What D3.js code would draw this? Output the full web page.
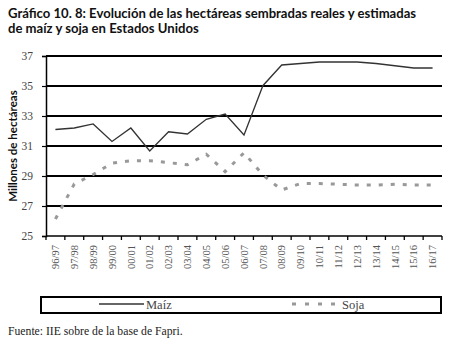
<!DOCTYPE html>
<html><head><meta charset="utf-8">
<script src="https://cdn.jsdelivr.net/npm/d3@7"></script>
<style>body{margin:0;background:#fff}svg{display:block}</style>
</head><body>
<svg id="c" width="450" height="349"></svg>
<script>
const categories = ["96/97","97/98","98/99","99/00","00/01","01/02","02/03","03/04","04/05","05/06","06/07","07/08","08/09","09/10","10/11","11/12","12/13","13/14","14/15","15/16","16/17"];
const maiz = [32.1,32.2,32.47,31.3,32.2,30.67,31.95,31.8,32.78,33.13,31.73,35.02,36.4,36.5,36.6,36.6,36.6,36.5,36.35,36.2,36.2];
const soja = [26.13,28.47,29.1,29.85,30.02,30.02,29.89,29.75,30.45,29.29,30.55,29.07,28.07,28.5,28.5,28.45,28.4,28.4,28.45,28.4,28.4];
const yTicks = [25,27,29,31,33,35,37];
const titleLines = ["Gráfico 10. 8: Evolución de las hectáreas sembradas reales y estimadas","de maíz y soja en Estados Unidos"];
const yTitle = "Millones de hectáreas";
const legendLabels = ["Maíz","Soja"];
const source = "Fuente: IIE sobre de la base de Fapri.";

const svg = d3.select("#c");
const L = 46, R = 442, T = 56, B = 236;
const x = d3.scaleBand().domain(categories).range([L, R]);
const y = d3.scaleLinear().domain([25,37]).range([B, T]);

// title
svg.append("g").selectAll("text").data(titleLines).join("text")
  .attr("x", 8).attr("y", (d,i)=>18+i*15)
  .attr("font-family","Lato, 'Open Sans', sans-serif").attr("font-weight","bold")
  .attr("font-size", 13.1).attr("fill","#111").text(d=>d);

// gridlines
svg.append("g").selectAll("line").data(yTicks.filter(t=>t>25)).join("line")
  .attr("x1", L).attr("x2", R).attr("y1", d=>y(d)).attr("y2", d=>y(d))
  .attr("stroke","#000").attr("stroke-width",1.8);

// y axis
const ya = svg.append("g").attr("transform",`translate(${L},0)`)
  .call(d3.axisLeft(y).tickValues(yTicks).tickSize(4).tickPadding(9));
ya.select(".domain").attr("stroke","#000").attr("stroke-width",1.5);
ya.selectAll(".tick line").attr("stroke","#000").attr("stroke-width",1.2);
ya.selectAll("text").attr("font-family","'Liberation Serif', serif").attr("font-size",11.5).attr("fill","#444");

// x axis
const xa = svg.append("g").attr("transform",`translate(0,${B})`)
  .call(d3.axisBottom(x).tickSize(0).tickPadding(0));
xa.select(".domain").remove();
xa.selectAll(".tick text")
  .attr("transform","rotate(-90)")
  .attr("text-anchor","end").attr("x",-9).attr("y",0).attr("dy","0.35em")
  .attr("font-family","'Liberation Serif', serif").attr("font-size",10.5).attr("fill","#555");
svg.append("line").attr("x1",L).attr("x2",R).attr("y1",B).attr("y2",B).attr("stroke","#000").attr("stroke-width",1.5);
const bounds = d3.range(categories.length+1).map(i=> L + i*x.step());
svg.append("g").selectAll("line").data(bounds).join("line")
  .attr("x1",d=>d).attr("x2",d=>d).attr("y1",B).attr("y2",B+4)
  .attr("stroke","#000").attr("stroke-width",1.3);

// y title
svg.append("text").attr("transform",`translate(17,${(T+B)/2}) rotate(-90)`)
  .attr("text-anchor","middle").attr("font-family","Lato, 'Open Sans', sans-serif")
  .attr("font-weight","bold").attr("font-size",11.5).attr("fill","#111").text(yTitle);

// lines
const cx = d => x(d) + x.bandwidth()/2;
svg.append("path").datum(soja.map((v,i)=>[cx(categories[i]), y(v)]))
  .attr("d", d3.line()).attr("fill","none").attr("stroke","#999").attr("stroke-width",3).attr("stroke-dasharray","4,8");
svg.append("path").datum(maiz.map((v,i)=>[cx(categories[i]), y(v)]))
  .attr("d", d3.line()).attr("fill","none").attr("stroke","#333").attr("stroke-width",1.3);

// legend
svg.append("rect").attr("x",41).attr("y",297).attr("width",400).attr("height",16)
  .attr("fill","none").attr("stroke","#000").attr("stroke-width",2);
svg.append("line").attr("x1",99).attr("x2",144).attr("y1",304).attr("y2",304).attr("stroke","#333").attr("stroke-width",1.3);
svg.append("line").attr("x1",292).attr("x2",341).attr("y1",304).attr("y2",304).attr("stroke","#999").attr("stroke-width",3).attr("stroke-dasharray","4,9");
svg.append("g").selectAll("text").data(legendLabels).join("text")
  .attr("x",(d,i)=> i===0 ? 146 : 342).attr("y",308.5)
  .attr("font-family","'Liberation Serif', serif").attr("font-size",12.5).attr("fill","#444").text(d=>d);

// source
svg.append("text").attr("x",8).attr("y",335)
  .attr("font-family","'Liberation Serif', serif").attr("font-size",11.7).attr("fill","#222").text(source);
</script>
</body></html>
